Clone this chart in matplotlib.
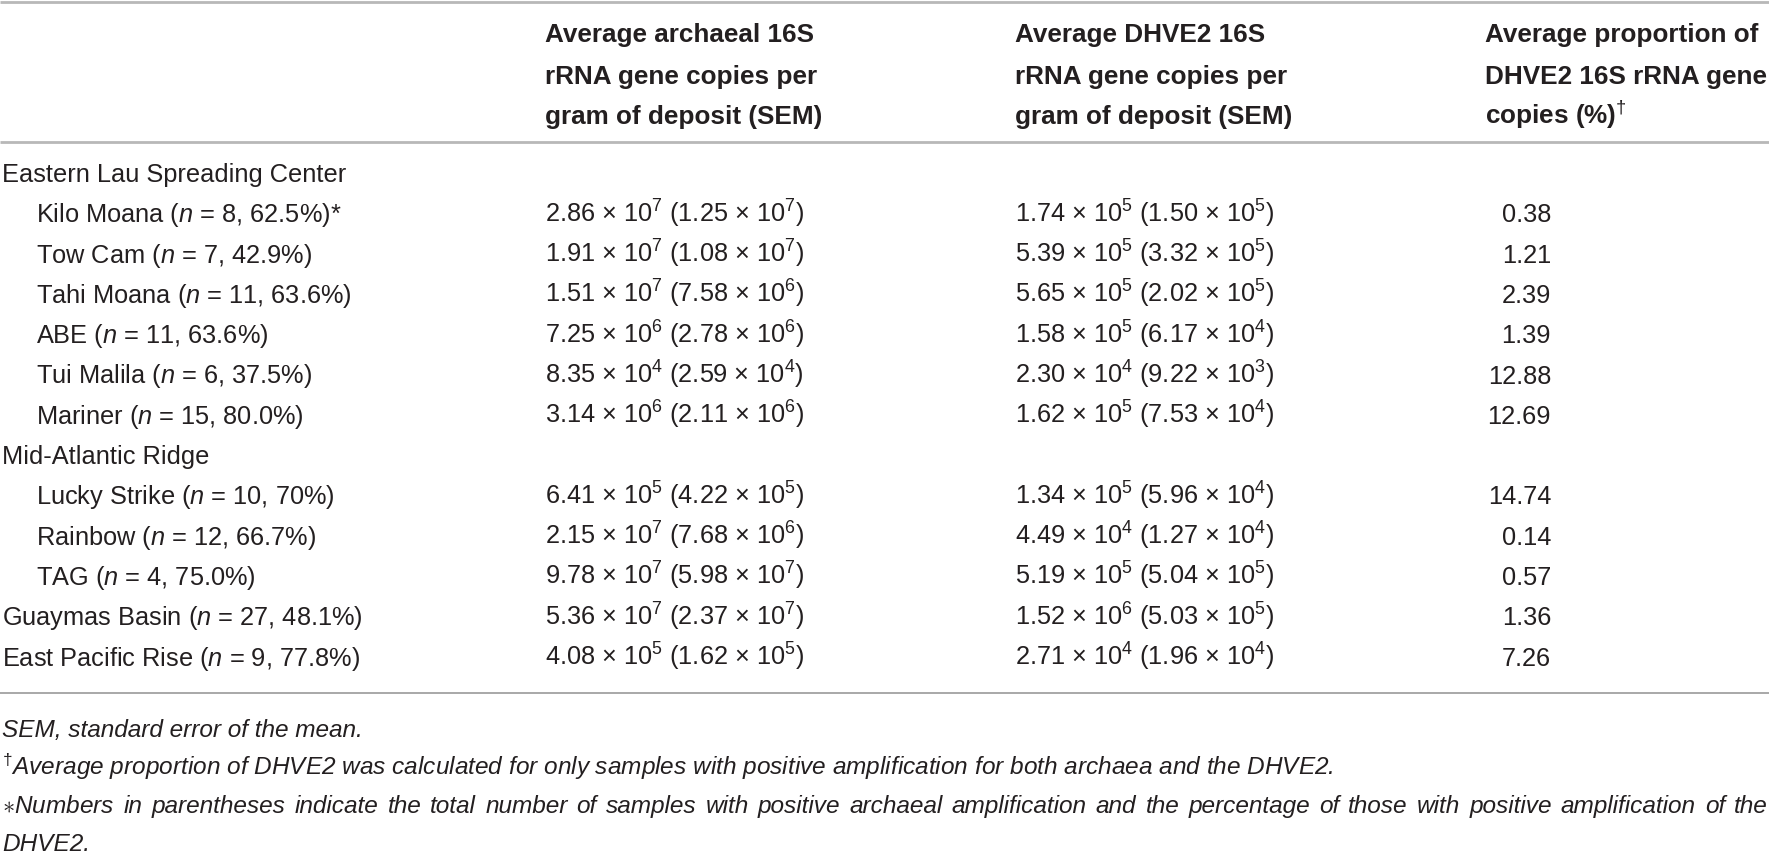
import matplotlib
matplotlib.use("Agg")
import matplotlib.pyplot as plt

# --- table content ---
site_labels = ["Eastern Lau Spreading Center", "Kilo Moana", "Tow Cam", "Tahi Moana", "ABE",
               "Tui Malila", "Mariner", "Mid-Atlantic Ridge", "Lucky Strike", "Rainbow", "TAG",
               "Guaymas Basin", "East Pacific Rise"]
site_indent = [0, 1, 1, 1, 1, 1, 1, 0, 1, 1, 1, 0, 0]
n_samples = [None, 8, 7, 11, 11, 6, 15, None, 10, 12, 4, 27, 9]
pct_positive = [None, "62.5", "42.9", "63.6", "63.6", "37.5", "80.0", None, "70", "66.7", "75.0",
                "48.1", "77.8"]
site_marks = ["", "*", "", "", "", "", "", "", "", "", "", "", ""]

arch_mean = [None, "2.86e7", "1.91e7", "1.51e7", "7.25e6", "8.35e4", "3.14e6", None,
             "6.41e5", "2.15e7", "9.78e7", "5.36e7", "4.08e5"]
arch_sem = [None, "1.25e7", "1.08e7", "7.58e6", "2.78e6", "2.59e4", "2.11e6", None,
            "4.22e5", "7.68e6", "5.98e7", "2.37e7", "1.62e5"]
dhve_mean = [None, "1.74e5", "5.39e5", "5.65e5", "1.58e5", "2.30e4", "1.62e5", None,
             "1.34e5", "4.49e4", "5.19e5", "1.52e6", "2.71e4"]
dhve_sem = [None, "1.50e5", "3.32e5", "2.02e5", "6.17e4", "9.22e3", "7.53e4", None,
            "5.96e4", "1.27e4", "5.04e5", "5.03e5", "1.96e4"]
dhve_prop = [None, "0.38", "1.21", "2.39", "1.39", "12.88", "12.69", None,
             "14.74", "0.14", "0.57", "1.36", "7.26"]

headers = [
    ["Average archaeal 16S", "rRNA gene copies per", "gram of deposit (SEM)"],
    ["Average DHVE2 16S", "rRNA gene copies per", "gram of deposit (SEM)"],
    ["Average proportion of", "DHVE2 16S rRNA gene", r"copies (%)$^{\dagger}$"],
]

footnotes = [
    "SEM, standard error of the mean.",
    r"$^{\dagger}$Average proportion of DHVE2 was calculated for only samples with positive "
    "amplification for both archaea and the DHVE2.",
    r"$\ast$Numbers in parentheses indicate the total number of samples with positive archaeal "
    "amplification and the percentage of those with positive amplification of the",
    "DHVE2.",
]
# the third footnote line is a justified (wrapped) line in the source
footnote_justified = [False, False, True, False]

# --- styling ---
plt.rcParams['font.family'] = ['Liberation Sans', 'DejaVu Sans']
plt.rcParams['mathtext.fontset'] = 'custom'
plt.rcParams['mathtext.rm'] = 'Liberation Sans'
plt.rcParams['mathtext.it'] = 'Liberation Sans:italic'
plt.rcParams['mathtext.bf'] = 'Liberation Sans:bold'

W, H = 1769, 851
ink = '#231f20'
rule = '#b8b8b8'
fs_body = 18.3
fs_head = 18.8
fs_note = 17.6

col_x = [2, 545, 1015, 1485]
prop_right = 1551
indent_px = 34
row_y0, row_dy = 173, 40.3
head_y = [33, 75, 115]
note_y = [728, 766, 804, 842]
note_right = 1768
base_off = 9  # centre -> baseline


def sci(s):
    mant, exp = s.split('e')
    return mant + r" $\times$ 10$^{" + exp + "}$"


fig = plt.figure(figsize=(W / 100, H / 100), dpi=100)
ax = fig.add_axes([0, 0, 1, 1])
ax.set_xlim(0, W)
ax.set_ylim(H, 0)
ax.axis('off')
renderer = fig.canvas.get_renderer()


def justified_line(x0, x1, y, line, **kw):
    """Draw a line of words spread evenly between x0 and x1."""
    words = line.split(' ')
    items = [ax.text(0, y, w, va='baseline', ha='left', **kw) for w in words]
    widths = [t.get_window_extent(renderer).width for t in items]
    gap = (x1 - x0 - sum(widths)) / (len(words) - 1)
    x = x0
    for t, w in zip(items, widths):
        t.set_x(x)
        x += w + gap


# horizontal rules
ax.plot([0, W], [1.5, 1.5], color=rule, lw=2.0, solid_capstyle='butt')
ax.plot([0, W], [142, 142], color=rule, lw=2.0, solid_capstyle='butt')
ax.plot([0, W], [693, 693], color='#a8a8a8', lw=1.4, solid_capstyle='butt')

# column headers
for j, lines in enumerate(headers):
    for k, line in enumerate(lines):
        ax.text(col_x[j + 1], head_y[k] + base_off, line, fontsize=fs_head, fontweight='bold',
                color=ink, va='baseline', ha='left')

# body rows
for i, label in enumerate(site_labels):
    y = row_y0 + i * row_dy + base_off
    txt = label
    if n_samples[i] is not None:
        txt = label + r" ($n$ = " + str(n_samples[i]) + ", " + pct_positive[i] + "%)" + site_marks[i]
    ax.text(col_x[0] + indent_px * site_indent[i], y, txt, fontsize=fs_body, color=ink,
            va='baseline', ha='left')
    if arch_mean[i] is not None:
        ax.text(col_x[1], y, sci(arch_mean[i]) + " (" + sci(arch_sem[i]) + ")",
                fontsize=fs_body, color=ink, va='baseline', ha='left')
        ax.text(col_x[2], y, sci(dhve_mean[i]) + " (" + sci(dhve_sem[i]) + ")",
                fontsize=fs_body, color=ink, va='baseline', ha='left')
        ax.text(prop_right, y, dhve_prop[i], fontsize=fs_body, color=ink,
                va='baseline', ha='right')

# footnotes
for k, note in enumerate(footnotes):
    y = note_y[k] + base_off
    if footnote_justified[k]:
        justified_line(col_x[0], note_right, y, note, fontsize=fs_note, style='italic', color=ink)
    else:
        ax.text(col_x[0], y, note, fontsize=fs_note, style='italic', color=ink,
                va='baseline', ha='left')

fig.savefig('out.png', dpi=100)
